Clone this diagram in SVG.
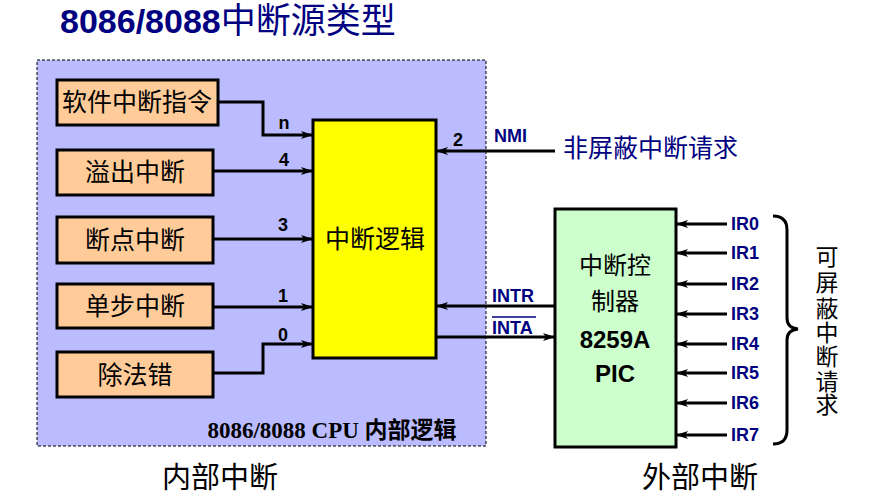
<svg xmlns="http://www.w3.org/2000/svg" width="895" height="498" viewBox="0 0 895 498">
<defs>
<marker id="ah" markerWidth="12" markerHeight="8" refX="12" refY="4" orient="auto" markerUnits="userSpaceOnUse">
<path d="M0,0 L12,4 L0,8 L3,4 Z" fill="#000"/>
</marker>
<style>
.cn{font-family:"Liberation Serif","Noto Sans CJK SC",serif;fill:#000}
.b{fill:#FFCC99;stroke:#000;stroke-width:3}
.w{fill:none;stroke:#000;stroke-width:3}
.lbl{font-family:"Liberation Sans",Arial,sans-serif;font-weight:bold;font-size:18px;fill:#000}
.nv{font-family:"Liberation Sans",Arial,sans-serif;font-weight:bold;font-size:18px;fill:#000080}
</style>
</defs>
<rect width="895" height="498" fill="#fff"/>
<text x="60" y="33" font-family="Liberation Sans,Arial,sans-serif" font-weight="bold" font-size="34" fill="#000080">8086/8088<tspan font-family="Liberation Serif,'Noto Sans CJK SC',serif" font-weight="normal" font-size="35">中断源类型</tspan></text>
<g id="cpu">
<rect x="37" y="60" width="449" height="386" fill="#BBBBFF" stroke="#000" stroke-width="1" stroke-dasharray="3,2"/>
<text x="332" y="438" text-anchor="middle" font-family="Liberation Serif,'Noto Sans CJK SC',serif" font-weight="bold" font-size="23" fill="#000">8086/8088 CPU 内部逻辑</text>
</g>
<g id="n-soft"><rect class="b" x="57" y="80" width="161" height="45"/><text class="cn" x="137" y="111" text-anchor="middle" font-size="25">软件中断指令</text></g>
<g id="n-ovf"><rect class="b" x="57" y="150" width="156" height="45"/><text class="cn" x="135" y="181" text-anchor="middle" font-size="25">溢出中断</text></g>
<g id="n-bp"><rect class="b" x="57" y="217" width="156" height="46"/><text class="cn" x="135" y="249" text-anchor="middle" font-size="25">断点中断</text></g>
<g id="n-step"><rect class="b" x="57" y="284" width="156" height="44"/><text class="cn" x="135" y="315" text-anchor="middle" font-size="25">单步中断</text></g>
<g id="n-div"><rect class="b" x="57" y="352" width="156" height="45"/><text class="cn" x="135" y="384" text-anchor="middle" font-size="25">除法错</text></g>
<g id="logic"><rect x="313" y="120" width="123" height="238" fill="#FFFF00" stroke="#000" stroke-width="3"/><text class="cn" x="375" y="248" text-anchor="middle" font-size="25">中断逻辑</text></g>
<g id="pic"><rect x="555" y="209" width="121" height="238" fill="#CCFFCC" stroke="#000" stroke-width="3"/>
<text class="cn" x="615" y="274" text-anchor="middle" font-size="24">中断控</text>
<text class="cn" x="615" y="310" text-anchor="middle" font-size="24">制器</text>
<text x="615" y="348" text-anchor="middle" font-family="Liberation Sans,Arial,sans-serif" font-weight="bold" font-size="24" fill="#000">8259A</text>
<text x="615" y="382" text-anchor="middle" font-family="Liberation Sans,Arial,sans-serif" font-weight="bold" font-size="24" fill="#000">PIC</text>
</g>
<g id="connectors">
<path class="w" d="M218,102 H263 V135 H313" marker-end="url(#ah)"/>
<path class="w" d="M213,171 H313" marker-end="url(#ah)"/>
<path class="w" d="M213,239 H313" marker-end="url(#ah)"/>
<path class="w" d="M213,307 H313" marker-end="url(#ah)"/>
<path class="w" d="M213,373 H263 V344 H313" marker-end="url(#ah)"/>
<path class="w" d="M555,151 H436" marker-end="url(#ah)"/>
<path class="w" d="M555,306 H436" marker-end="url(#ah)"/>
<path class="w" d="M436,337 H555" marker-end="url(#ah)"/>
<path class="w" d="M727,224 H676" marker-end="url(#ah)"/>
<path class="w" d="M727,253 H676" marker-end="url(#ah)"/>
<path class="w" d="M727,284 H676" marker-end="url(#ah)"/>
<path class="w" d="M727,314 H676" marker-end="url(#ah)"/>
<path class="w" d="M727,344 H676" marker-end="url(#ah)"/>
<path class="w" d="M727,373 H676" marker-end="url(#ah)"/>
<path class="w" d="M727,403 H676" marker-end="url(#ah)"/>
<path class="w" d="M727,435 H676" marker-end="url(#ah)"/>
<path d="M773,216 Q787,216 787,230 V318 Q787,328 798,329 Q787,330 787,340 V430 Q787,444 773,444" fill="none" stroke="#000" stroke-width="3"/>
</g>
<g id="labels">
<text class="lbl" x="284" y="129" text-anchor="middle">n</text>
<text class="lbl" x="284" y="166" text-anchor="middle">4</text>
<text class="lbl" x="283" y="231" text-anchor="middle">3</text>
<text class="lbl" x="283" y="302" text-anchor="middle">1</text>
<text class="lbl" x="283" y="341" text-anchor="middle">0</text>
<text class="lbl" x="458" y="146" text-anchor="middle">2</text>
<text class="nv" x="494" y="142">NMI</text>
<text x="563" y="157" font-family="Liberation Serif,'Noto Sans CJK SC',serif" font-size="25" fill="#000080">非屏蔽中断请求</text>
<text class="nv" x="492" y="302">INTR</text>
<text class="nv" x="492" y="334">INTA</text>
<line x1="492" y1="317" x2="536" y2="317" stroke="#000080" stroke-width="1.5"/>
<text class="nv" x="731" y="230">IR0</text>
<text class="nv" x="731" y="259">IR1</text>
<text class="nv" x="731" y="290">IR2</text>
<text class="nv" x="731" y="320">IR3</text>
<text class="nv" x="731" y="350">IR4</text>
<text class="nv" x="731" y="379">IR5</text>
<text class="nv" x="731" y="409">IR6</text>
<text class="nv" x="731" y="441">IR7</text>
<text class="cn" font-size="23" text-anchor="middle"><tspan x="827" y="265">可</tspan><tspan x="827" y="291">屏</tspan><tspan x="827" y="317">蔽</tspan><tspan x="827" y="341">中</tspan><tspan x="827" y="365">断</tspan><tspan x="827" y="390">请</tspan><tspan x="827" y="413">求</tspan></text>
<text class="cn" x="220" y="488" text-anchor="middle" font-size="29">内部中断</text>
<text class="cn" x="700" y="488" text-anchor="middle" font-size="29">外部中断</text>
</g>
</svg>
